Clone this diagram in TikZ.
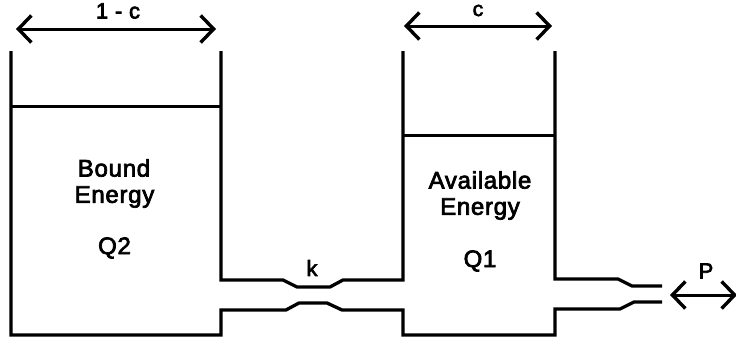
\documentclass[tikz,border=0pt]{standalone}
\usepackage{fontspec}
\setmainfont{Liberation Sans}[FakeBold=3,LetterSpace=3]
\usetikzlibrary{arrows.meta}
\tikzset{
  wall/.style={line width=3.3pt,line join=miter,line cap=butt},
  level/.style={line width=3pt},
  dim/.style={line width=3pt,{Straight Barb[length=13pt,width=27pt,line width=3.4pt]}-{Straight Barb[length=13pt,width=27pt,line width=3.4pt]}},
  lab/.style={inner sep=0pt,font=\fontsize{24}{24}\selectfont,align=center,text=black}
}
\begin{document}
\begin{tikzpicture}[x=1pt,y=-1pt]
\useasboundingbox (0,0) rectangle (736,343);
\fill[white] (0,0) rectangle (736,343);
% tanks and pipes
\draw[wall] (11,51) -- (11,335) -- (221,335) -- (221,310) -- (286,310) -- (299,303) -- (327,303) -- (342,310) -- (403,310) -- (403,335) -- (555,335) -- (555,309) -- (620,309) -- (634,302) -- (662,302);
\draw[wall] (221,51) -- (221,280) -- (283,280) -- (297,287) -- (330,287) -- (343,280) -- (403,280) -- (403,51);
\draw[wall] (555,51) -- (555,279) -- (618,279) -- (632,286) -- (662,286);
% levels
\draw[level] (11,106) -- (221,106);
\draw[level] (403,135) -- (555,135);
% dimension arrows
\coordinate (al) at (16,29); \coordinate (ar) at (216,29);
\coordinate (bl) at (404,26); \coordinate (br) at (552,26);
\coordinate (pl) at (670,295); \coordinate (pr) at (737,295);
\draw[dim] (al) -- (ar);
\draw[dim] (bl) -- (br);
\draw[dim] (pl) -- (pr);
% labels
\node[lab,font=\fontsize{22}{22}\selectfont] (t1) at (118,11) {1 - c};
\node[lab,font=\fontsize{21}{21}\selectfont] (t2) at (478,10.5) {c};
\node[lab,font=\fontsize{22}{22}\selectfont] (t3) at (706,271) {P};
\node[lab,font=\fontsize{22}{22}\selectfont] (t4) at (312,268) {k};
\node[lab] (t5) at (114,168) {Bound};
\node[lab] (t6) at (114.5,197) {Energy};
\node[lab] (t7) at (114.5,248) {Q2};
\node[lab] (t8) at (480,180) {Available};
\node[lab] (t9) at (480,209) {Energy};
\node[lab] (t10) at (480,261) {Q1};
\end{tikzpicture}
\end{document}
